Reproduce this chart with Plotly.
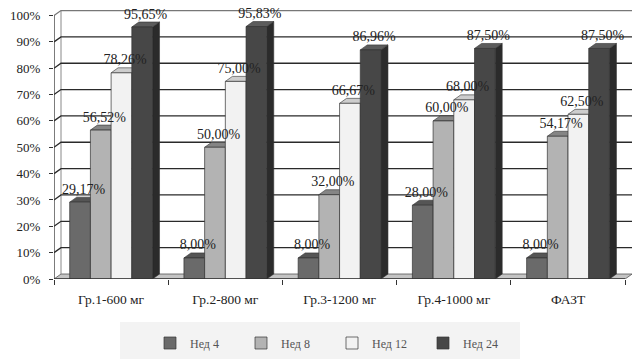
import plotly.graph_objects as go

categories = ["Гр.1-600 мг", "Гр.2-800 мг", "Гр.3-1200 мг", "Гр.4-1000 мг", "ФАЗТ"]
series_names = ["Нед 4", "Нед 8", "Нед 12", "Нед 24"]
ned4 = [29.17, 8.00, 8.00, 28.00, 8.00]
ned8 = [56.52, 50.00, 32.00, 60.00, 54.17]
ned12 = [78.26, 75.00, 66.67, 68.00, 62.50]
ned24 = [95.65, 95.83, 86.96, 87.50, 87.50]
y_ticks = [0, 10, 20, 30, 40, 50, 60, 70, 80, 90, 100]

series = [ned4, ned8, ned12, ned24]
front = ["#6a6a6a", "#b3b3b3", "#f2f2f2", "#474747"]
top_c = ["#555555", "#858585", "#cdcdcd", "#5c5c5c"]
side_c = ["#3e3e3e", "#6e6e6e", "#a8a8a8", "#2b2b2b"]

SERIF = "Liberation Serif, Times New Roman, Times, serif"

W, H = 632, 361
ML, MR, MT, MB = 54, 0, 5, 82
xr = [-0.5, 4.56]
yr = [0, 104]
PW, PH = W - ML - MR, H - MT - MB
pxx = PW / (xr[1] - xr[0])
pxy = PH / (yr[1] - yr[0])
DX = 7 / pxx
DY = 5 / pxy

gap = 0.275
bw = (1 - gap) / len(series)
xs = list(range(len(categories)))

fig = go.Figure()
shapes = []

# faint legend band
shapes.append(dict(type="rect", xref="paper", yref="paper", layer="below",
                   x0=(120 - ML) / PW, x1=(520 - ML) / PW,
                   y0=-(359 - (H - MB)) / PH, y1=-(322 - (H - MB)) / PH,
                   fillcolor="#f3f3f3", line=dict(width=0)))

line_c = "#2a2a2a"
# floor
shapes.append(dict(type="path", xref="x", yref="y", layer="below",
                   path=f"M {xr[0]},0 L 4.5,0 L {4.5+DX},{DY} L {xr[0]+DX},{DY} Z",
                   fillcolor="#c4c4c4", line=dict(color="#555555", width=0.8)))
# left wall vertical and back-wall gridlines
shapes.append(dict(type="line", xref="x", yref="y", layer="below",
                   x0=xr[0] + DX, x1=xr[0] + DX, y0=DY, y1=100 + DY,
                   line=dict(color="#888888", width=1)))
for t in y_ticks[1:]:
    shapes.append(dict(type="path", xref="x", yref="y", layer="below",
                       path=f"M {xr[0]},{t} L {xr[0]+DX},{t+DY} L {4.5+DX},{t+DY}",
                       line=dict(color=line_c if t < 100 else "#777777", width=1.3)))
# 3D faces of bars
for k, vals in enumerate(series):
    for i, v in enumerate(vals):
        l = i - (1 - gap) / 2 + k * bw
        r = l + bw
        shapes.append(dict(type="path", xref="x", yref="y", layer="below",
                           path=f"M {r},0 L {r+DX},{DY} L {r+DX},{v+DY} L {r},{v} Z",
                           fillcolor=side_c[k], line=dict(color="#333333", width=0.6)))
        shapes.append(dict(type="path", xref="x", yref="y", layer="below",
                           path=f"M {l},{v} L {r},{v} L {r+DX},{v+DY} L {l+DX},{v+DY} Z",
                           fillcolor=top_c[k], line=dict(color="#333333", width=0.6)))

# front faces
for k, vals in enumerate(series):
    fig.add_trace(go.Bar(x=xs, y=vals, name=series_names[k],
                         marker=dict(color=front[k], line=dict(color="#333333", width=0.7)),
                         hoverinfo="skip"))

# data labels
for k, vals in enumerate(series):
    lx = [i - (1 - gap) / 2 + (k + 0.5) * bw + DX / 2 for i in xs]
    ly = [v + DY for v in vals]
    fig.add_trace(go.Scatter(x=lx, y=ly, mode="text",
                             text=[f"{v:.2f}%".replace(".", ",") for v in vals],
                             textposition="top center",
                             textfont=dict(family=SERIF, size=14, color="#222222"),
                             showlegend=False, cliponaxis=False, hoverinfo="skip"))

# front x axis line and y axis line
shapes.append(dict(type="line", xref="x", yref="y", x0=xr[0], x1=4.5, y0=0, y1=0,
                   line=dict(color="#333333", width=1.3)))
shapes.append(dict(type="line", xref="x", yref="y", x0=xr[0], x1=xr[0], y0=0, y1=100,
                   line=dict(color="#333333", width=1.3)))

fig.update_layout(
    width=W, height=H,
    margin=dict(l=ML, r=MR, t=MT, b=MB),
    paper_bgcolor="white", plot_bgcolor="rgba(0,0,0,0)",
    barmode="group", bargap=gap, bargroupgap=0,
    shapes=shapes,
    font=dict(family=SERIF, color="#222222", size=13),
    showlegend=True,
    legend=dict(orientation="h", x=(332 - ML) / PW, xanchor="center", y=-64 / PH, yanchor="middle",
                font=dict(family=SERIF, size=12, color="#555555"),
                bgcolor="rgba(0,0,0,0)", entrywidth=46, entrywidthmode="pixels",
                itemwidth=30, traceorder="normal"),
    xaxis=dict(range=xr, tickmode="array", tickvals=xs, ticktext=categories,
               ticks="", showgrid=False, zeroline=False, showline=False,
               ticklabelstandoff=10,
               tickfont=dict(family=SERIF, size=13.5, color="#222222"),
               minor=dict(tickmode="array", tickvals=[-0.5, 0.5, 1.5, 2.5, 3.5, 4.5],
                          ticks="outside", ticklen=5, tickcolor="#333333", tickwidth=1.2,
                          showgrid=False)),
    yaxis=dict(range=yr, tickmode="array", tickvals=y_ticks,
               ticktext=[f"{t}%" for t in y_ticks],
               ticks="outside", ticklen=4, tickcolor="#333333", tickwidth=1.2,
               showgrid=False, zeroline=False, showline=False,
               ticklabelstandoff=6,
               tickfont=dict(family=SERIF, size=13, color="#222222")),
)

fig.write_html("out.html")
